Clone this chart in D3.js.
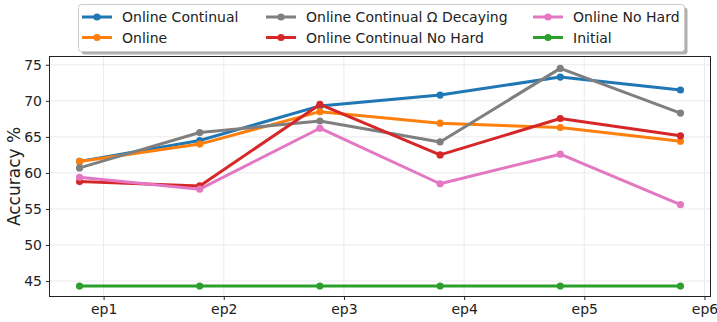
<!DOCTYPE html>
<html>
<head>
<meta charset="utf-8">
<script src="https://cdn.jsdelivr.net/npm/d3@7"></script>
<style>
  html, body { margin: 0; padding: 0; background: #fff; }
  svg { display: block; font-family: "DejaVu Sans", sans-serif; }
</style>
</head>
<body>
<svg id="chart" width="717" height="322"></svg>
<script>
// Epoch labels and accuracy (%) per method
const epochs = ["ep1", "ep2", "ep3", "ep4", "ep5", "ep6"];
const onlineContinual = [61.6, 64.5, 69.3, 70.8, 73.3, 71.5];
const online = [61.6, 64.0, 68.5, 66.9, 66.3, 64.4];
const onlineContinualDecaying = [60.7, 65.6, 67.2, 64.3, 74.5, 68.3];
const onlineContinualNoHard = [58.8, 58.2, 69.5, 62.5, 67.55, 65.15];
const onlineNoHard = [59.4, 57.75, 66.2, 58.5, 62.6, 55.6];
const initial = [44.3, 44.3, 44.3, 44.3, 44.3, 44.3];
const yTicks = [45, 50, 55, 60, 65, 70, 75];

const series = [
  { name: "Online Continual", values: onlineContinual, color: "#1f77b4" },
  { name: "Online", values: online, color: "#ff7f0e" },
  { name: "Online Continual \u03A9 Decaying", values: onlineContinualDecaying, color: "#7f7f7f" },
  { name: "Online Continual No Hard", values: onlineContinualNoHard, color: "#d62728" },
  { name: "Online No Hard", values: onlineNoHard, color: "#e377c2" },
  { name: "Initial", values: initial, color: "#2ca02c" }
];

const svg = d3.select("#chart");
const plot = { left: 49.5, right: 710.5, top: 56.5, bottom: 296.5 };

// Points sit at integer positions; tick labels are offset by 0.2
const x = d3.scaleLinear().domain([-0.25, 5.25]).range([plot.left, plot.right]);
const y = d3.scaleLinear().domain([42.86, 76.15]).range([plot.bottom, plot.top]);
const tickPos = epochs.map((d, i) => i + 0.2);

// Grid
const grid = svg.append("g");
grid.selectAll("line.gx").data(tickPos).join("line")
  .attr("x1", d => x(d)).attr("x2", d => x(d))
  .attr("y1", plot.top).attr("y2", plot.bottom)
  .attr("stroke", "#ebebeb").attr("stroke-width", 1);
grid.selectAll("line.gy").data(yTicks).join("line")
  .attr("x1", plot.left).attr("x2", plot.right)
  .attr("y1", d => y(d)).attr("y2", d => y(d))
  .attr("stroke", "#ebebeb").attr("stroke-width", 1);

// Axes
const xAxis = d3.axisBottom(x).tickValues(tickPos)
  .tickFormat((d, i) => epochs[i]).tickSizeOuter(0).tickSize(3.5).tickPadding(4);
const yAxis = d3.axisLeft(y).tickValues(yTicks).tickSizeOuter(0).tickSize(3.5).tickPadding(4);

const gx = svg.append("g").attr("transform", `translate(0,${plot.bottom})`).call(xAxis);
const gy = svg.append("g").attr("transform", `translate(${plot.left},0)`).call(yAxis);
[gx, gy].forEach(g => {
  g.select(".domain").remove();
  g.selectAll(".tick line").attr("stroke", "#222");
  g.selectAll(".tick text").attr("fill", "#222")
    .style("font-family", "DejaVu Sans, sans-serif").style("font-size", "14px");
});

svg.append("text")
  .attr("transform", `translate(20,${(plot.top + plot.bottom) / 2}) rotate(-90)`)
  .attr("text-anchor", "middle")
  .attr("font-size", 17).attr("fill", "#222")
  .text("Accuracy %");

// Lines and markers
const line = d3.line().x((d, i) => x(i)).y(d => y(d));
series.forEach(s => {
  const g = svg.append("g");
  g.append("path").datum(s.values)
    .attr("d", line).attr("fill", "none")
    .attr("stroke", s.color).attr("stroke-width", 3)
    .attr("stroke-linejoin", "round").attr("stroke-linecap", "butt");
  g.selectAll("circle").data(s.values).join("circle")
    .attr("cx", (d, i) => x(i)).attr("cy", d => y(d))
    .attr("r", 3.6).attr("fill", s.color);
});

// Frame
svg.append("rect")
  .attr("x", plot.left).attr("y", plot.top)
  .attr("width", plot.right - plot.left).attr("height", plot.bottom - plot.top)
  .attr("fill", "none").attr("stroke", "#222").attr("stroke-width", 1);

// Legend (three columns, filled column by column) with drop shadow
const lg = { x: 78.5, y: 4.5, w: 606, h: 47 };
svg.append("rect")
  .attr("x", lg.x + 3).attr("y", lg.y + 3).attr("width", lg.w).attr("height", lg.h)
  .attr("rx", 3).attr("fill", "#b0b0b0");
svg.append("rect")
  .attr("x", lg.x).attr("y", lg.y).attr("width", lg.w).attr("height", lg.h)
  .attr("rx", 3).attr("fill", "#fff").attr("stroke", "#cccccc");

const colX = [82, 266, 533];
const rowY = [17, 37.5];
series.forEach((s, i) => {
  const cx = colX[Math.floor(i / 2)];
  const cy = rowY[i % 2];
  const g = svg.append("g");
  g.append("line").attr("x1", cx).attr("x2", cx + 30).attr("y1", cy).attr("y2", cy)
    .attr("stroke", s.color).attr("stroke-width", 3);
  g.append("circle").attr("cx", cx + 15).attr("cy", cy).attr("r", 3.6).attr("fill", s.color);
  g.append("text").attr("x", cx + 40).attr("y", cy).attr("dy", "0.36em")
    .attr("font-size", 14).attr("fill", "#222").text(s.name);
});
</script>
</body>
</html>
